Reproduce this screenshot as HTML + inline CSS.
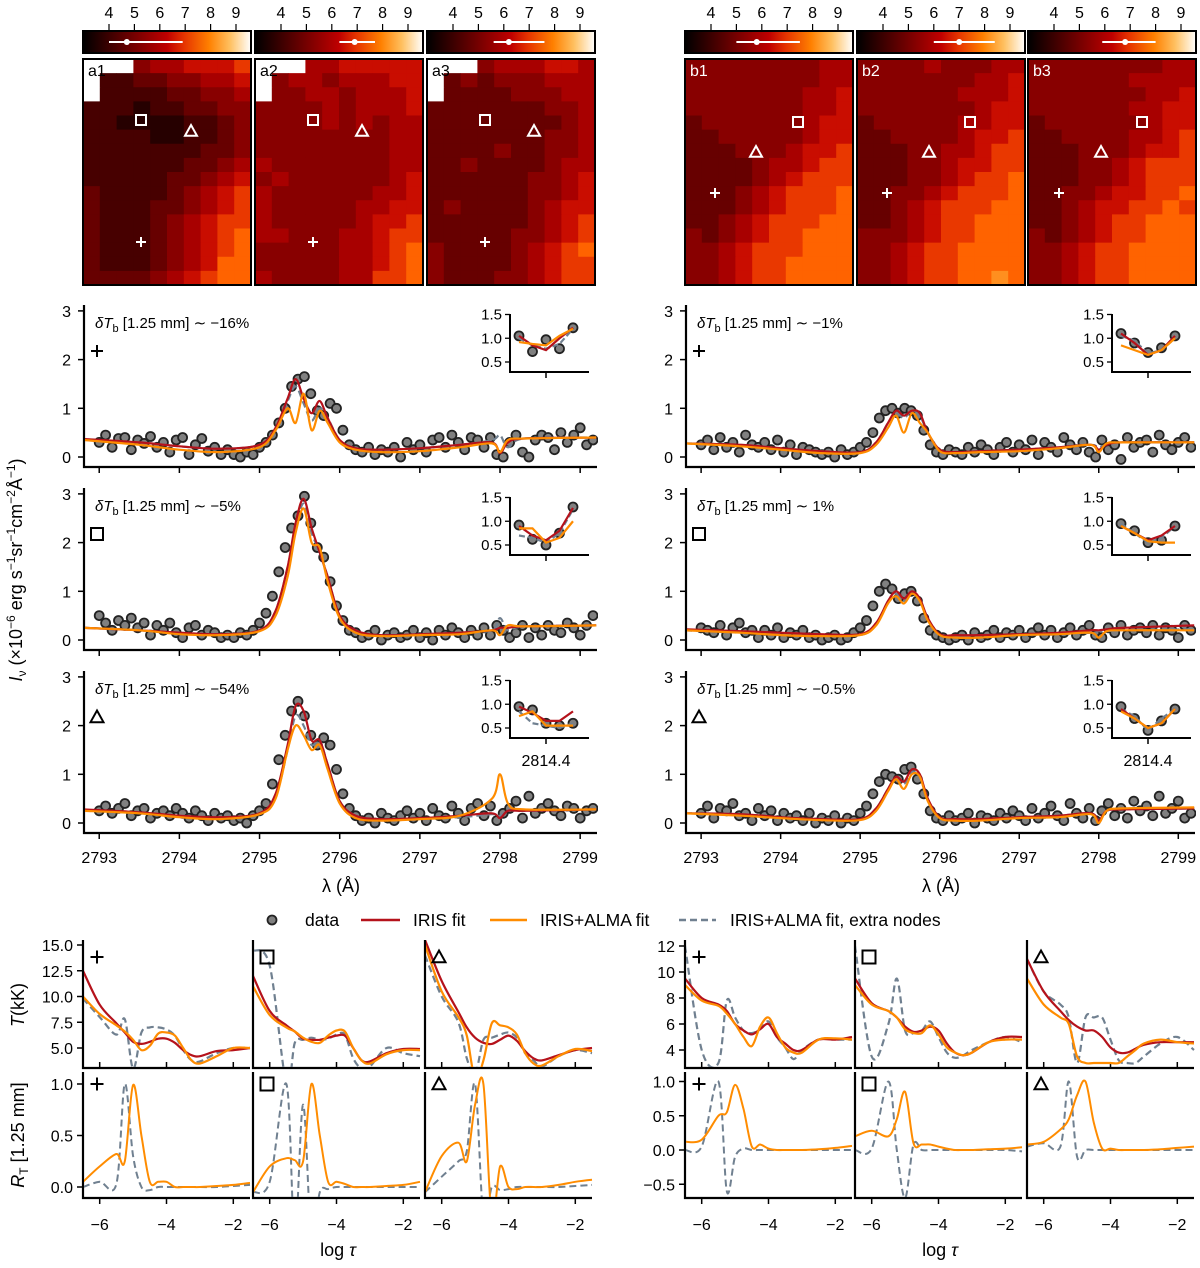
<!DOCTYPE html>
<html><head><meta charset="utf-8"><style>
html,body{margin:0;padding:0;background:#fff}
svg{display:block;font-family:"Liberation Sans","DejaVu Sans",sans-serif}
</style></head><body>
<svg id="fig" width="1200" height="1268" viewBox="0 0 1200 1268" xmlns="http://www.w3.org/2000/svg">
<defs>
<linearGradient id="cbg" x1="0" x2="1" y1="0" y2="0">
<stop offset="0" stop-color="#000"/><stop offset="0.25" stop-color="#600000"/><stop offset="0.5" stop-color="#bf0000"/><stop offset="0.6" stop-color="#e53300"/><stop offset="0.75" stop-color="#ff8000"/><stop offset="0.875" stop-color="#ffc060"/><stop offset="1" stop-color="#ffffff"/>
</linearGradient>
</defs>
</svg>
<script>
// ---------- HEATMAP DATA (digit = intensity level 0..9, '.' = no data) ----------
const mapA1=["...3445556",".112233445",".111122334","1110112233","1100001123","1111001123","1111111223","1111112234","1111122345","2111123456","2111223456","2111234566","2111234567","2111234567","2111234577","2222345677"];
const mapA2=["...4455555",".344344455",".334434445","3333434445","3333434344","3333333344","3333333344","4333333344","3433333345","4333333445","4333334455","4333334556","4433344566","3333344567","3333344567","4333344667"];
const mapA3=["...3444554",".232333444",".222233344","2222222334","2222222234","2222222334","2222322334","2232222344","2222223345","2222223345","2322223455","2222223456","2222233456","3222234567","3222234566","3222334566"];
const mapB1=["3333333344","3333333344","3333333445","3333333445","2333333455","2233333455","2223334556","2222344566","2222345666","2223456667","2223456667","2234566677","3234566777","3345666777","3345667777","3345667777"];
const mapB2=["3333433344","3333333445","3333334445","3333333455","2333334455","2233334556","2223344566","2223345566","2223345667","2233456667","2234566677","2234566777","3334566777","3345667777","3345667777","3345667787"];
const mapB3=["3333333344","3333334444","3333333445","3333334455","2333333455","2233334456","2223334556","2223345666","2223345666","2233455667","2234556676","2234566777","3234566777","3345667777","3345667777","3345667777"];
const cbRangeA1=[4.0,6.9,4.7], cbRangeA2=[6.3,7.7,6.9], cbRangeA3=[5.6,7.6,6.2];
const cbRangeB1=[5.0,7.5,5.8], cbRangeB2=[6.0,8.4,7.0], cbRangeB3=[5.9,8.0,6.8];
const cbTicks=[4,5,6,7,8,9];

// ---------- SPECTRA DATA ----------
const dotStart=2793.0, dotStep=0.08;
const dotsL1=[0.30,0.45,0.20,0.38,0.40,0.15,0.35,0.28,0.42,0.20,0.30,0.10,0.35,0.40,0.05,0.25,0.38,0.12,0.20,0.05,0.15,0.05,0.00,0.10,0.05,0.20,0.30,0.45,0.70,1.00,1.45,1.60,1.65,1.30,0.95,0.85,1.10,1.00,0.55,0.25,0.15,0.10,0.20,0.05,0.15,0.10,0.20,0.00,0.30,0.15,0.25,0.10,0.35,0.40,0.20,0.45,0.30,0.15,0.40,0.35,0.20,0.40,0.05,0.00,0.30,0.45,0.10,0.00,0.35,0.45,0.40,0.15,0.50,0.30,0.45,0.60,0.25,0.35];
const dotsL2=[0.50,0.35,0.20,0.40,0.30,0.45,0.25,0.35,0.10,0.30,0.20,0.35,0.15,0.05,0.25,0.30,0.10,0.20,0.15,0.05,0.10,0.05,0.15,0.10,0.20,0.35,0.55,0.90,1.40,1.90,2.30,2.55,2.95,2.40,1.90,1.70,1.20,0.70,0.40,0.20,0.15,0.05,0.10,0.20,0.00,0.10,0.15,0.05,0.10,0.20,0.05,0.15,0.00,0.20,0.10,0.25,0.15,0.05,0.20,0.10,0.25,0.10,0.30,0.20,0.05,0.15,0.30,0.05,0.25,0.10,0.30,0.20,0.15,0.35,0.25,0.10,0.30,0.50];
const dotsL3=[0.25,0.35,0.20,0.30,0.40,0.15,0.25,0.30,0.10,0.20,0.25,0.15,0.30,0.20,0.10,0.25,0.15,0.05,0.20,0.10,0.15,0.05,0.10,0.00,0.15,0.25,0.40,0.80,1.30,1.80,2.30,2.50,2.20,1.80,1.60,1.75,1.60,1.10,0.60,0.30,0.15,0.05,0.10,0.00,0.20,0.10,0.05,0.15,0.25,0.10,0.20,0.05,0.30,0.15,0.10,0.35,0.20,0.05,0.30,0.40,0.15,0.35,0.05,0.20,0.30,0.45,0.10,0.55,0.20,0.30,0.40,0.25,0.15,0.35,0.30,0.10,0.25,0.30];
const dotsR1=[0.25,0.35,0.15,0.40,0.20,0.30,0.10,0.45,0.25,0.20,0.30,0.15,0.35,0.10,0.25,0.05,0.20,0.15,0.10,0.05,0.10,0.00,0.15,0.05,0.10,0.20,0.30,0.50,0.80,0.95,1.00,0.90,1.00,0.95,0.85,0.55,0.25,0.10,0.05,0.15,0.10,0.05,0.20,0.10,0.25,0.15,0.05,0.20,0.30,0.10,0.25,0.15,0.35,0.05,0.30,0.20,0.10,0.40,0.25,0.15,0.30,0.10,0.00,0.35,0.15,0.25,-0.05,0.40,0.20,0.30,0.35,0.10,0.45,0.25,0.15,0.30,0.40,0.20];
const dotsR2=[0.25,0.20,0.15,0.30,0.10,0.25,0.35,0.15,0.20,0.05,0.20,0.10,0.25,0.05,0.15,0.10,0.20,0.05,0.10,0.00,0.05,0.10,0.00,0.05,0.15,0.25,0.40,0.70,1.00,1.15,1.05,0.85,0.95,1.00,0.80,0.45,0.20,0.10,0.05,0.00,0.05,0.10,0.00,0.15,0.05,0.10,0.20,0.05,0.15,0.10,0.20,0.05,0.15,0.25,0.10,0.20,0.05,0.15,0.25,0.10,0.20,0.30,0.10,0.05,0.25,0.15,0.30,0.10,0.20,0.25,0.15,0.30,0.10,0.25,0.20,0.05,0.30,0.20];
const dotsR3=[0.20,0.35,0.10,0.30,0.25,0.40,0.15,0.20,0.05,0.30,0.15,0.25,0.05,0.20,0.10,0.15,0.05,0.20,0.00,0.10,0.05,0.15,0.00,0.10,0.05,0.20,0.35,0.60,0.85,1.00,0.95,0.90,1.10,1.15,0.90,0.60,0.25,0.10,0.05,0.15,0.05,0.10,0.20,0.00,0.15,0.10,0.05,0.20,0.10,0.25,0.15,0.05,0.30,0.10,0.20,0.35,0.15,0.05,0.40,0.20,0.10,0.30,0.05,0.25,0.40,0.15,0.30,0.10,0.45,0.25,0.35,0.15,0.55,0.20,0.30,0.45,0.10,0.20];
const fitWl=[2792.8,2793.5,2794.0,2794.5,2795.0,2795.2,2795.35,2795.45,2795.55,2795.65,2795.75,2795.85,2796.0,2796.2,2796.5,2797.0,2797.5,2797.9,2798.0,2798.1,2798.3,2799.2];
const irisL1=[0.37,0.30,0.22,0.17,0.25,0.6,1.2,1.6,1.2,0.9,1.15,0.8,0.35,0.18,0.15,0.18,0.25,0.3,0.08,0.3,0.38,0.4];
const almaL1=[0.35,0.25,0.15,0.10,0.2,0.55,1.0,0.7,1.3,0.55,0.95,0.7,0.3,0.15,0.10,0.12,0.2,0.28,0.1,0.35,0.38,0.4];
const extraL1=[0.36,0.3,0.22,0.17,0.25,0.6,1.15,1.45,1.1,0.75,1.0,0.8,0.35,0.18,0.15,0.18,0.25,0.35,0.45,0.2,0.38,0.4];
const irisL2=[0.25,0.2,0.15,0.12,0.2,0.6,1.5,2.4,2.9,2.3,1.8,1.3,0.5,0.2,0.1,0.12,0.15,0.2,0.25,0.25,0.28,0.3];
const almaL2=[0.25,0.2,0.12,0.1,0.18,0.5,1.3,2.2,2.7,2.0,1.9,1.2,0.45,0.15,0.08,0.1,0.12,0.2,0.1,0.3,0.28,0.3];
const extraL2=[0.25,0.2,0.15,0.12,0.2,0.6,1.5,2.3,2.8,2.2,1.8,1.3,0.5,0.2,0.1,0.12,0.15,0.2,0.45,0.2,0.28,0.3];
const irisL3=[0.28,0.22,0.15,0.12,0.2,0.6,1.6,2.4,2.3,1.7,1.7,1.2,0.45,0.15,0.08,0.1,0.15,0.2,0.1,0.25,0.25,0.28];
const almaL3=[0.25,0.2,0.12,0.08,0.18,0.5,1.5,2.0,1.8,1.5,1.6,1.1,0.4,0.1,0.05,0.08,0.15,0.5,1.0,0.4,0.28,0.28];
const extraL3=[0.26,0.2,0.14,0.1,0.18,0.55,1.5,2.2,2.0,1.6,1.7,1.2,0.45,0.15,0.08,0.1,0.12,0.18,0.15,0.25,0.25,0.28];
const irisR1=[0.28,0.25,0.18,0.12,0.1,0.3,0.7,0.95,0.85,0.95,0.9,0.5,0.15,0.1,0.12,0.15,0.2,0.25,0.15,0.25,0.3,0.3];
const almaR1=[0.28,0.22,0.15,0.08,0.08,0.25,0.6,0.85,0.5,0.9,0.7,0.5,0.12,0.08,0.1,0.12,0.18,0.25,0.1,0.28,0.3,0.3];
const extraR1=[0.28,0.25,0.18,0.12,0.1,0.3,0.7,0.9,0.8,0.95,0.85,0.5,0.15,0.1,0.12,0.15,0.2,0.25,0.2,0.25,0.3,0.3];
const irisR2=[0.22,0.18,0.15,0.12,0.12,0.35,0.8,1.0,0.85,1.0,0.85,0.45,0.12,0.1,0.1,0.12,0.15,0.2,0.2,0.22,0.25,0.3];
const almaR2=[0.2,0.15,0.1,0.08,0.1,0.3,0.75,0.9,0.75,0.95,0.8,0.4,0.1,0.05,0.05,0.1,0.12,0.15,0.05,0.18,0.2,0.2];
const extraR2=[0.2,0.15,0.12,0.1,0.1,0.32,0.78,0.95,0.8,0.95,0.82,0.42,0.1,0.08,0.08,0.1,0.12,0.15,0.18,0.18,0.2,0.22];
const irisR3=[0.2,0.18,0.12,0.08,0.08,0.3,0.7,0.95,0.85,1.1,1.0,0.5,0.12,0.08,0.08,0.12,0.15,0.2,0.05,0.25,0.28,0.3];
const almaR3=[0.2,0.15,0.1,0.06,0.06,0.25,0.65,0.9,0.7,1.0,0.95,0.45,0.1,0.05,0.05,0.1,0.12,0.18,0.0,0.25,0.3,0.32];
const extraR3=[0.2,0.18,0.12,0.08,0.08,0.3,0.7,0.92,0.8,1.05,0.95,0.48,0.12,0.08,0.08,0.12,0.15,0.2,0.05,0.25,0.28,0.3];
const specXTicks=[2793,2794,2795,2796,2797,2798,2799];
const specYTicks=[0,1,2,3];
const deltaTLabels=["−16%","−5%","−54%","−1%","1%","−0.5%"];
// inset (ALMA band) data
const insetOff=[-0.2,-0.1,0,0.1,0.2];
const insetDots=[[1.05,0.72,0.97,0.78,1.22],[0.92,0.62,0.5,0.75,1.3],[0.95,0.88,0.6,0.55,0.6],[1.1,0.9,0.7,0.8,1.05],[0.95,0.8,0.55,0.6,0.9],[0.95,0.7,0.45,0.65,0.9]];
const insetIris=[[1.05,0.85,0.75,1.0,1.22],[0.9,0.7,0.6,0.8,1.28],[0.95,0.82,0.65,0.65,0.85],[1.1,0.9,0.65,0.75,1.05],[0.9,0.75,0.6,0.7,0.9],[0.9,0.7,0.5,0.6,0.9]];
const insetAlma=[[0.92,0.88,0.85,1.05,1.2],[0.85,0.85,0.55,0.65,1.0],[0.75,0.85,0.55,0.55,0.55],[0.85,0.75,0.65,0.75,1.0],[0.9,0.75,0.58,0.55,0.55],[0.85,0.7,0.5,0.6,0.9]];
const insetExtra=[[1.0,0.85,0.78,0.88,1.2],[0.7,0.65,0.55,0.75,1.25],[0.85,0.6,0.55,0.5,0.6],[1.05,0.95,0.68,0.75,1.0],[0.95,0.75,0.55,0.65,0.9],[0.9,0.75,0.45,0.7,0.9]];
const insetYTicks=[0.5,1.0,1.5];

// ---------- ATMOSPHERE DATA ----------
const logTau=[-6.5,-6,-5.5,-5.25,-5,-4.75,-4.5,-4.25,-4,-3.75,-3.5,-3.25,-3,-2.5,-2,-1.5];
const tIris=[[12.5,9.2,7.4,6.5,5.6,5.4,5.6,5.9,5.9,5.5,4.8,4.3,4.2,4.7,4.8,5.0],[12,8.6,7.2,6.6,5.9,5.8,5.8,6.0,6.2,6.2,5.0,3.8,3.7,4.5,4.9,4.9],[15.5,11.5,8.5,7,6,5.5,5.4,5.8,6.2,5.7,4.7,4.0,3.8,4.3,4.8,5.0],[9.5,8.0,7.5,7.0,6.0,5.5,5.2,5.6,6.0,5.0,4.5,4.0,4.0,4.8,4.8,5.0],[9.5,7.6,7.0,6.5,5.8,5.4,5.5,5.8,5.5,4.5,3.8,3.6,3.8,4.6,5.0,5.0],[11,8.5,7,6.3,5.8,5.5,5.5,5.0,4.2,3.8,3.8,4.1,4.4,4.6,4.6,4.6]];
const tAlma=[[10,8.3,7.2,6.6,5.8,4.8,5.2,6.4,6.5,6.2,5.0,3.8,3.5,4.2,5.0,5.0],[11,8.2,7.0,6.6,6.0,5.6,5.5,6.2,6.7,6.6,5.0,3.8,3.5,4.4,4.8,4.8],[15,10.5,8,6.2,2,3.8,7.4,7.2,7.0,6.3,4.5,3.5,3.3,4.2,4.9,4.7],[9,7.8,7.4,6.8,6.0,5.0,4.3,5.8,6.5,5.3,4.2,3.8,3.8,4.8,4.9,4.8],[9,7.5,7.0,6.5,5.6,5.3,5.3,5.9,5.2,4.2,3.8,3.6,3.8,4.6,4.8,4.8],[9.5,7.5,6.5,6.0,3.5,3.0,3.0,3.0,3.0,3.0,3.5,4.0,4.5,4.8,4.6,4.5]];
const tExtra=[[9.8,8.0,6.3,7.8,3.0,6.5,7.0,7.0,6.8,6.2,4.8,3.8,3.7,4.5,5.0,5.0],[14.5,13,1.5,5.5,5.8,6.0,5.8,5.9,6.3,6.3,4.0,3.0,3.2,5.0,4.5,4.2],[14,10,7.5,4,2.5,5.8,6.0,6.3,6.5,6.0,4.5,3.8,3.2,4.2,4.8,4.5],[12,4,3,7.8,6.5,5.5,5.3,5.6,6.2,5.0,4.2,3.3,4.0,4.8,4.8,4.8],[12,3.5,6,9.5,5.5,5.3,5.5,6.2,5.0,3.8,3.4,3.6,4.0,4.6,5.0,4.6],[11,8.5,7.5,6.5,3.0,6.5,6.5,6.5,4.8,3.2,3.0,3.0,3.5,4.5,5.0,4.0]];
const rAlma=[[0.05,0.2,0.32,0.25,0.99,0.5,0.05,0.05,0.05,0.0,0.0,0.0,0.0,0.01,0.02,0.04],[-0.05,0.2,0.28,0.26,0.25,1.0,0.5,0.05,0.05,0.03,0,0,0,0.01,0.02,0.05],[-0.05,0.3,0.43,0.25,0.8,1.0,-0.3,0.2,0.0,-0.02,0,0,0,0.02,0.05,0.07],[0.12,0.15,0.5,0.55,0.95,0.6,0.05,0.08,0.02,0,0,0,0,0.01,0.03,0.06],[0.2,0.28,0.2,0.45,0.85,0.1,0.08,0.08,0.05,0.02,0,0,0,0.01,0.02,0.04],[0.08,0.12,0.3,0.45,0.8,1.0,0.4,0.02,0.02,0,0,0,0,0.01,0.03,0.05]];
const rExtra=[[0.0,0.05,0.03,1.0,0.3,0.0,-0.03,0,0,0,0,0,0,0,0.01,0.02],[-0.05,0.05,1.0,-0.5,0.8,-0.5,-0.05,-0.02,0,0,0,0,0,0,0,0],[-0.05,0.1,0.25,0.35,1.0,-0.3,0.0,-0.03,-0.02,0,0,0,0,0,0.01,0.02],[0.0,0.05,1.0,-0.6,-0.1,0.02,0.0,0,0,0,0,0,0,0,0,0],[0.0,0.02,1.0,0.0,-0.7,0.08,0.0,0,0,0,0,0,0,0,0,-0.02],[0.05,0.1,0.05,1.0,-0.1,0.0,0.0,0,0,0,0,0,0,0,0,0]];
const tTicksL=[5.0,7.5,10.0,12.5,15.0], tTicksR=[4,6,8,10,12];
const rTicksL=[0.0,0.5,1.0], rTicksR=[-0.5,0.0,0.5,1.0];
const tauTicks=[-6,-4,-2];

// ---------- drawing ----------
const NS='http://www.w3.org/2000/svg';
const svg=document.getElementById('fig');
const FS=16;
function mk(tag,attrs,parent){const e=document.createElementNS(NS,tag);for(const k in attrs)e.setAttribute(k,attrs[k]);(parent||svg).appendChild(e);return e;}
function txt(s,attrs,parent){const e=mk('text',attrs,parent);e.textContent=s;return e;}
function cmap(t){const r=Math.min(1,1.5*t),g=Math.max(0,Math.min(1,2*t-1)),b=Math.max(0,Math.min(1,4*t-3));return `rgb(${Math.round(r*255)},${Math.round(g*255)},${Math.round(b*255)})`;}
function smooth(pts){let d=`M${pts[0][0].toFixed(1)},${pts[0][1].toFixed(1)}`;for(let i=0;i<pts.length-1;i++){const p0=pts[Math.max(0,i-1)],p1=pts[i],p2=pts[i+1],p3=pts[Math.min(pts.length-1,i+2)];const c1=[p1[0]+(p2[0]-p0[0])/6,p1[1]+(p2[1]-p0[1])/6],c2=[p2[0]-(p3[0]-p1[0])/6,p2[1]-(p3[1]-p1[1])/6];d+=`C${c1[0].toFixed(1)},${c1[1].toFixed(1)} ${c2[0].toFixed(1)},${c2[1].toFixed(1)} ${p2[0].toFixed(1)},${p2[1].toFixed(1)}`;}return d;}
function marker(kind,x,y,color,s,parent){
  let e;
  if(kind==='plus'){e=mk('path',{d:`M${x-s},${y}H${x+s}M${x},${y-s}V${y+s}`,stroke:color,'stroke-width':2,fill:'none'},parent);}
  else if(kind==='square'){e=mk('rect',{x:x-s,y:y-s,width:2*s,height:2*s,stroke:color,'stroke-width':2,fill:'none'},parent);}
  else {e=mk('path',{d:`M${x},${y-s}L${x+s},${y+s*0.8}L${x-s},${y+s*0.8}Z`,stroke:color,'stroke-width':2,fill:'none'},parent);}
  
  
  return e;
}
let clipId=0;
function clip(x,y,w,h){const id='c'+(clipId++);const cp=mk('clipPath',{id},svg.querySelector('defs'));mk('rect',{x,y,width:w,height:h},cp);return `url(#${id})`;}

// ---- heatmaps ----
const heat=[
 {m:mapA1,x:83,lab:'a1',cb:cbRangeA1,dark:true,mk:[[141,120,'square'],[191,131,'tri'],[141,242,'plus']]},
 {m:mapA2,x:255,lab:'a2',cb:cbRangeA2,dark:true,mk:[[313,120,'square'],[362,131,'tri'],[313,242,'plus']]},
 {m:mapA3,x:427,lab:'a3',cb:cbRangeA3,dark:true,mk:[[485,120,'square'],[534,131,'tri'],[485,242,'plus']]},
 {m:mapB1,x:685,lab:'b1',cb:cbRangeB1,dark:false,mk:[[798,122,'square'],[756,152,'tri'],[715,193,'plus']]},
 {m:mapB2,x:857,lab:'b2',cb:cbRangeB2,dark:false,mk:[[970,122,'square'],[929,152,'tri'],[887,193,'plus']]},
 {m:mapB3,x:1028,lab:'b3',cb:cbRangeB3,dark:false,mk:[[1142,122,'square'],[1101,152,'tri'],[1059,193,'plus']]}];
heat.forEach(h=>{
  const W=168,top=59,H=226;
  const g=mk('g',{});
  
  
  const cbx=v=>h.x+26+(v-4)*25.4;
  const cb=mk('rect',{x:h.x,y:31,width:W,height:22,fill:'url(#cbg)',stroke:'#000','stroke-width':2},g);
  
  
  cbTicks.forEach(t=>{mk('line',{x1:cbx(t),x2:cbx(t),y1:24,y2:31,stroke:'#000','stroke-width':1.2},g);
    const tl=txt(String(t),{x:cbx(t),y:18,'font-size':FS,'text-anchor':'middle'},g);
    
    });
  const eb=mk('line',{x1:cbx(h.cb[0]),x2:cbx(h.cb[1]),y1:42,y2:42,stroke:'#fff','stroke-width':2},g);
  
  
  const dot=mk('circle',{cx:cbx(h.cb[2]),cy:42,r:3,fill:'#fff'},g);
  
  
  const rows=h.m.length,cols=h.m[0].length,cw=W/cols,ch=H/rows;
  h.m.forEach((row,r)=>{for(let c=0;c<cols;c++){const d=row[c];
    const cell=mk('rect',{x:(h.x+c*cw).toFixed(2),y:(top+r*ch).toFixed(2),width:(cw+0.4).toFixed(2),height:(ch+0.4).toFixed(2),fill:d==='.'?'#fff':cmap(0.1+Number(d)*0.085)},g);
    
    }});
  mk('rect',{x:h.x,y:top,width:W,height:H,fill:'none',stroke:'#000','stroke-width':2},g);
  const lb=txt(h.lab,{x:h.x+5,y:top+17,'font-size':FS,fill:h.dark?'#000':'#fff'},g);
  
  
  h.mk.forEach(m=>marker(m[2],m[0],m[1],'#fff',m[2]==='tri'?6:5,g));
});

// ---- spectra ----
const rowsZero=[457,640,823],rowsTop=[305,488,671],rowsBot=[467,650,833];
const specPanels=[
 {L:84,R:597,row:0,dots:dotsL1,f:[irisL1,almaL1,extraL1],sym:'plus'},
 {L:84,R:597,row:1,dots:dotsL2,f:[irisL2,almaL2,extraL2],sym:'square'},
 {L:84,R:597,row:2,dots:dotsL3,f:[irisL3,almaL3,extraL3],sym:'tri'},
 {L:686,R:1195,row:0,dots:dotsR1,f:[irisR1,almaR1,extraR1],sym:'plus'},
 {L:686,R:1195,row:1,dots:dotsR2,f:[irisR2,almaR2,extraR2],sym:'square'},
 {L:686,R:1195,row:2,dots:dotsR3,f:[irisR3,almaR3,extraR3],sym:'tri'}];
const lineCols=['#b5121b','#ff8c00','#708090'];
specPanels.forEach((p,k)=>{
  const g=mk('g',{});
  
  
  const z=rowsZero[p.row],top=rowsTop[p.row],bot=rowsBot[p.row];
  const sx=l=>p.L+(l-2792.81)/(2799.21-2792.81)*(p.R-p.L);
  const sy=v=>z-v*48.7;
  mk('path',{d:`M${p.L},${top}V${bot}H${p.R}`,stroke:'#000','stroke-width':2.2,fill:'none'},g);
  specYTicks.forEach(t=>{mk('line',{x1:p.L-6,x2:p.L,y1:sy(t),y2:sy(t),stroke:'#000','stroke-width':1.5},g);
    const tl=txt(String(t),{x:p.L-13,y:sy(t)+6,'font-size':FS,'text-anchor':'end'},g);
    
    });
  specXTicks.forEach(t=>{mk('line',{x1:sx(t),x2:sx(t),y1:bot,y2:bot+6,stroke:'#000','stroke-width':1.5},g);
    if(p.row===2){const tl=txt(String(t),{x:sx(t),y:bot+30,'font-size':FS,'text-anchor':'middle'},g);
    
    }});
  const cp=clip(p.L+1,top-4,p.R-p.L,bot-top+2);
  const dg=mk('g',{'clip-path':cp},g);
  p.dots.forEach((v,i)=>{const c=mk('circle',{cx:sx(dotStart+i*dotStep).toFixed(1),cy:sy(v).toFixed(1),r:4.5,fill:'#808080',stroke:'#222','stroke-width':1.8},dg);
    
    });
  [2,0,1].forEach(j=>{const ln=mk('path',{d:smooth(fitWl.map((w,i)=>[sx(w),sy(p.f[j][i])])),stroke:lineCols[j],'stroke-width':2.2,fill:'none','stroke-dasharray':j===2?'7,4':'none'},dg);
    
    });
  const dt=mk('text',{x:p.L+11,y:top+23,'font-size':15},g);
  dt.innerHTML=`<tspan font-style="italic">δT</tspan><tspan font-size="11" dy="4">b</tspan><tspan dy="-4"> [1.25 mm] ∼ ${deltaTLabels[k]}</tspan>`;
  
  
  marker(p.sym,p.L+13,top+46,'#000',p.sym==='tri'?6.5:6,g);
  // inset
  const iL=p.L+426,iB=top+67,iT=top+9;
  const ix=o=>iL+36+o*135, iy=v=>iB-10-(v-0.5)*47.5;
  mk('path',{d:`M${iL},${iT}V${iB}H${iL+79}`,stroke:'#000','stroke-width':2,fill:'none'},g);
  mk('line',{x1:ix(0),x2:ix(0),y1:iB,y2:iB+6,stroke:'#000','stroke-width':1.5},g);
  insetYTicks.forEach(t=>{mk('line',{x1:iL-5,x2:iL,y1:iy(t),y2:iy(t),stroke:'#000','stroke-width':1.3},g);
    const tl=txt(t.toFixed(1),{x:iL-8,y:iy(t)+5,'font-size':15,'text-anchor':'end'},g);
    
    });
  insetDots[k].forEach((v,i)=>{const c=mk('circle',{cx:ix(insetOff[i]),cy:iy(v),r:4.5,fill:'#808080',stroke:'#222','stroke-width':1.8},g);
    
    });
  [[insetExtra,2],[insetIris,0],[insetAlma,1]].forEach(([arr,j])=>{const ln=mk('polyline',{points:arr[k].map((v,i)=>ix(insetOff[i])+','+iy(v)).join(' '),stroke:lineCols[j],'stroke-width':2.2,fill:'none','stroke-dasharray':j===2?'6,3':'none'},g);
    
    });
  if(p.row===2){const tl=txt('2814.4',{x:ix(0),y:iB+28,'font-size':FS,'text-anchor':'middle'},g);
    
    }
});
[341,941].forEach(x=>{const t=txt('λ (Å)',{x,y:892,'font-size':18,'text-anchor':'middle'});
  
  });
const yl=mk('text',{x:0,y:0,'font-size':18,'text-anchor':'middle',transform:'translate(22,570) rotate(-90)'});
yl.innerHTML='<tspan font-style="italic">I</tspan><tspan font-size="12" dy="4">ν</tspan><tspan dy="-4"> (×10</tspan><tspan font-size="12" dy="-7">−6</tspan><tspan dy="7"> erg s</tspan><tspan font-size="12" dy="-7">−1</tspan><tspan dy="7">sr</tspan><tspan font-size="12" dy="-7">−1</tspan><tspan dy="7">cm</tspan><tspan font-size="12" dy="-7">−2</tspan><tspan dy="7">Å</tspan><tspan font-size="12" dy="-7">−1</tspan><tspan dy="7">)</tspan>';



// ---- legend ----
const lg=mk('g',{});


const ld=mk('circle',{cx:272,cy:920,r:4.5,fill:'#808080',stroke:'#222','stroke-width':1.8},lg);


txt('data',{x:305,y:926,'font-size':17.5},lg);
[[361,400,413,'IRIS fit',0],[490,527,540,'IRIS+ALMA fit',1],[679,716,730,'IRIS+ALMA fit, extra nodes',2]].forEach(e=>{
  const l=mk('line',{x1:e[0],x2:e[1],y1:920,y2:920,stroke:lineCols[e[4]],'stroke-width':2.4,'stroke-dasharray':e[4]===2?'7,4':'none'},lg);
  
  
  txt(e[3],{x:e[2],y:926,'font-size':17.5},lg);});

// ---- atmosphere panels ----
const atmX=[83,253,425,685,855,1027];
const syms=['plus','square','tri'];
atmX.forEach((L,k)=>{
  const right=k>=3,W=167;
  const sx=t=>L+(t+6.5)/5*W;
  const tY=right?(v=>1050-(v-4)*13):(v=>1048-(v-5)*10.3);
  const rY=right?(v=>1150-v*68.5):(v=>1187-v*103);
  const g=mk('g',{});
  
  
  mk('path',{d:`M${L},940V1068H${L+W}`,stroke:'#000','stroke-width':2.2,fill:'none'},g);
  mk('path',{d:`M${L},1072V1198H${L+W}`,stroke:'#000','stroke-width':2.2,fill:'none'},g);
  tauTicks.forEach(t=>{mk('line',{x1:sx(t),x2:sx(t),y1:1068,y2:1062,stroke:'#000','stroke-width':1.5},g);
    mk('line',{x1:sx(t),x2:sx(t),y1:1198,y2:1204,stroke:'#000','stroke-width':1.5},g);
    const tl=txt(t<0?'−'+(-t):String(t),{x:sx(t),y:1230,'font-size':FS,'text-anchor':'middle'},g);
    
    });
  if(k%3===0){
    (right?tTicksR:tTicksL).forEach(t=>{mk('line',{x1:L-6,x2:L,y1:tY(t),y2:tY(t),stroke:'#000','stroke-width':1.5},g);
      const tl=txt(right?String(t):t.toFixed(1),{x:L-10,y:tY(t)+6,'font-size':FS,'text-anchor':'end'},g);
      
      });
    (right?rTicksR:rTicksL).forEach(t=>{mk('line',{x1:L-6,x2:L,y1:rY(t),y2:rY(t),stroke:'#000','stroke-width':1.5},g);
      const tl=txt(t<0?'−'+(-t).toFixed(1):t.toFixed(1),{x:L-10,y:rY(t)+6,'font-size':FS,'text-anchor':'end'},g);
      
      });
  }
  const c1=clip(L+1,940,W,127), c2=clip(L+1,1072,W,125);
  const g1=mk('g',{'clip-path':c1},g), g2=mk('g',{'clip-path':c2},g);
  [[tExtra,2],[tIris,0],[tAlma,1]].forEach(([arr,j])=>{const ln=mk('path',{d:smooth(logTau.map((t,i)=>[sx(t),tY(arr[k][i])])),stroke:lineCols[j],'stroke-width':2.2,fill:'none','stroke-dasharray':j===2?'7,4':'none'},g1);
    
    });
  [[rExtra,2],[rAlma,1]].forEach(([arr,j])=>{const ln=mk('path',{d:smooth(logTau.map((t,i)=>[sx(t),rY(arr[k][i])])),stroke:lineCols[j],'stroke-width':2,fill:'none','stroke-dasharray':j===2?'7,4':'none'},g2);
    
    });
  const s=syms[k%3];
  marker(s,L+14,957,'#000',6.5,g);
  marker(s,L+14,1084,'#000',6.5,g);
});
[338,940].forEach(x=>{const t=mk('text',{x,y:1256,'font-size':18,'text-anchor':'middle'});
  t.innerHTML='log <tspan font-style="italic">τ</tspan>';
  
  });
const tl1=mk('text',{x:0,y:0,'font-size':18,'text-anchor':'middle',transform:'translate(24,1005) rotate(-90)'});
tl1.innerHTML='<tspan font-style="italic">T</tspan>(kK)';


const tl2=mk('text',{x:0,y:0,'font-size':18,'text-anchor':'middle',transform:'translate(24,1135) rotate(-90)'});
tl2.innerHTML='<tspan font-style="italic">R</tspan><tspan font-size="12" dy="4">T</tspan><tspan dy="-4"> [1.25 mm]</tspan>';


</script>
</body></html>
